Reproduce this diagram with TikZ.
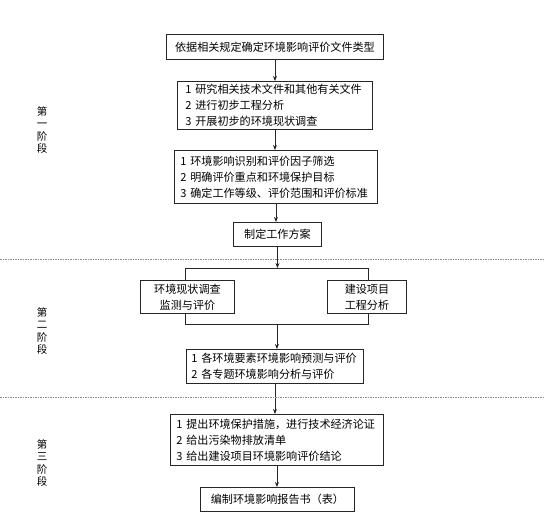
\documentclass[tikz,border=0pt]{standalone}
\usepackage{fontspec}
\setmainfont{Noto Sans CJK SC}
\usetikzlibrary{arrows.meta}
\begin{document}
\begin{tikzpicture}[x=1pt,y=-1pt,
  box/.style={draw=black!85, line width=0.9pt, fill=white, inner ysep=0pt, anchor=north west,
    font=\fontsize{11.1}{16}\selectfont},
  lbox/.style={box, align=left},
  cbox/.style={box, align=center},
  arr/.style={draw=black!85, line width=0.9pt, -{Stealth[length=5pt,width=4pt]}},
  stage/.style={align=center, font=\fontsize{10.5}{12.5}\selectfont},
  sep/.style={draw=black!45, dashed, dash pattern=on 1.5pt off 1pt, line width=0.4pt}]
\useasboundingbox (0,0) rectangle (544,522);
% boxes
\node[cbox, minimum width=217, minimum height=25, text width=205] (b1) at (166,34) {依据相关规定确定环境影响评价文件类型};
\node[lbox, minimum height=48, text width=179, inner xsep=8] (b2) at (177,81) {1 研究相关技术文件和其他有关文件\\2 进行初步工程分析\\3 开展初步的环境现状调查};
\node[lbox, minimum height=53, text width=191, inner xsep=6] (b3) at (174,150) {1 环境影响识别和评价因子筛选\\2 明确评价重点和环境保护目标\\3 确定工作等级、评价范围和评价标准};
\node[cbox, minimum width=88, minimum height=24, text width=80] (b4) at (233,222) {制定工作方案};
% bracket
\node[draw=black!85, line width=0.9pt, minimum width=183, minimum height=56, anchor=north west, inner sep=0pt] (br) at (185,268) {};
\node[cbox, minimum width=94, minimum height=33, text width=86] (bl) at (140,280) {环境现状调查\\监测与评价};
\node[cbox, minimum width=79, minimum height=33, text width=71] (brt) at (327,280) {建设项目\\工程分析};
\node[lbox, minimum height=34, text width=167, inner xsep=5] (b5) at (186,349) {1 各环境要素环境影响预测与评价\\2 各专题环境影响分析与评价};
\node[lbox, minimum height=51, text width=201, inner xsep=6] (b6) at (170,414) {1 提出环境保护措施，进行技术经济论证\\2 给出污染物排放清单\\3 给出建设项目环境影响评价结论};
\node[cbox, minimum width=154, minimum height=24, text width=146] (b7) at (200,487) {编制环境影响报告书（表）};
% arrows
\draw[arr] (b1.south) -- (b2.north -| b1.south);
\draw[arr] (b2.south) -- (b3.north -| b2.south);
\draw[arr] (b3.south) -- (b4.north -| b3.south);
\draw[arr] (b4.south) -- (br.north -| b4.south);
\draw[arr] (br.south) -- (b5.north -| br.south);
\draw[arr] (b5.south) -- (b6.north -| b5.south);
\draw[arr] (b6.south) -- (b7.north -| b6.south);
% separators
\coordinate (s1l) at (0,259); \coordinate (s1r) at (544,259);
\coordinate (s2l) at (0,397); \coordinate (s2r) at (544,397);
\draw[sep] (s1l) -- (s1r);
\draw[sep] (s2l) -- (s2r);
% stage labels
\node[stage] (st1) at (42,130) {第\\一\\阶\\段};
\node[stage] (st2) at (42,331) {第\\二\\阶\\段};
\node[stage] (st3) at (42,463) {第\\三\\阶\\段};
\end{tikzpicture}
\end{document}
